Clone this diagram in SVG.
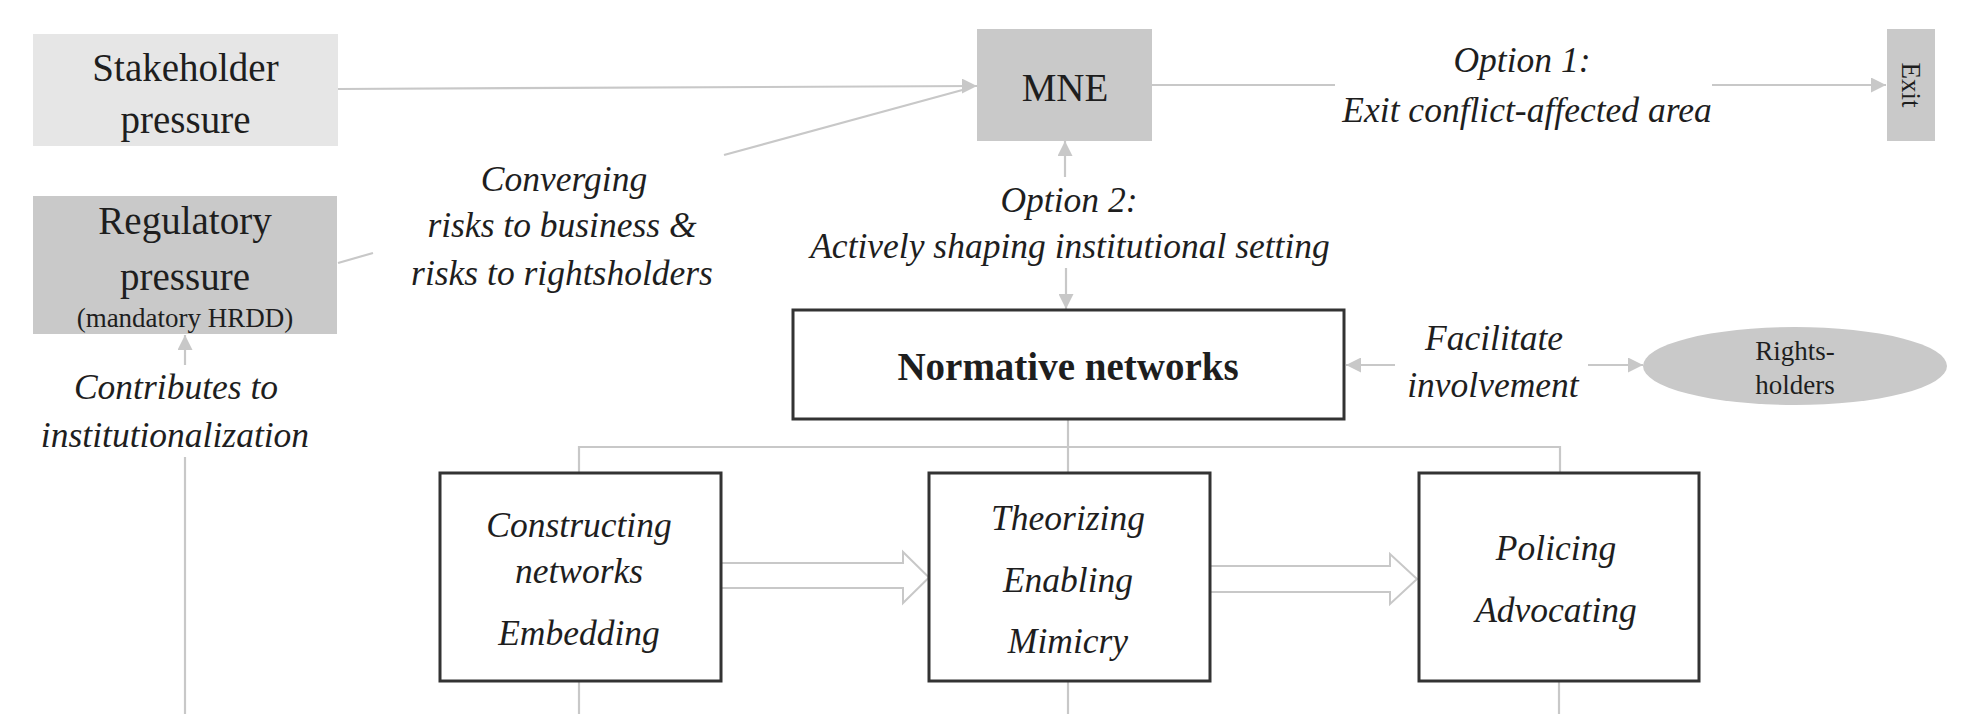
<svg xmlns="http://www.w3.org/2000/svg" width="1981" height="714" viewBox="0 0 1981 714">
<style>
text{font-family:"Liberation Serif","Times New Roman",serif;fill:#1e1e1e;text-anchor:middle}
.n{font-size:39px}
.s{font-size:27px}
.i{font-size:35.5px;font-style:italic}
.b{font-size:39px;font-weight:bold}
.ln{stroke:#c8c8c8;stroke-width:2.2;fill:none}
.box{fill:#fff;stroke:#333;stroke-width:3}
.g1{fill:#e6e6e6}
.g2{fill:#c9c9c9}
.blk{fill:#fff;stroke:#c8c8c8;stroke-width:2}
</style>
<defs>
<marker id="ah" viewBox="0 0 10 10" refX="10" refY="5" markerWidth="15" markerHeight="15" markerUnits="userSpaceOnUse" orient="auto">
<path d="M0,0 L10,5 L0,10 z" fill="#c8c8c8"/>
</marker>
</defs>
<rect width="1981" height="714" fill="#fff"/>
<g id="connectors">
<line class="ln" x1="338" y1="89" x2="977" y2="86" marker-end="url(#ah)"/>
<line class="ln" x1="338" y1="263" x2="373" y2="253"/>
<line class="ln" x1="724" y1="155" x2="966" y2="89"/>
<line class="ln" x1="1152" y1="85" x2="1335" y2="85"/>
<line class="ln" x1="1712" y1="85" x2="1886" y2="85" marker-end="url(#ah)"/>
<line class="ln" x1="1065" y1="177" x2="1065" y2="141" marker-end="url(#ah)"/>
<line class="ln" x1="1066" y1="268" x2="1066" y2="309" marker-end="url(#ah)"/>
<line class="ln" x1="1395" y1="365" x2="1346" y2="365" marker-end="url(#ah)"/>
<line class="ln" x1="1588" y1="365" x2="1643" y2="365" marker-end="url(#ah)"/>
<line class="ln" x1="185" y1="365" x2="185" y2="335" marker-end="url(#ah)"/>
<line class="ln" x1="185" y1="457" x2="185" y2="714"/>
<line class="ln" x1="1068" y1="419" x2="1068" y2="473"/>
<polyline class="ln" points="579,473 579,447 1560,447 1560,473"/>
<line class="ln" x1="579" y1="681" x2="579" y2="714"/>
<line class="ln" x1="1068" y1="681" x2="1068" y2="714"/>
<line class="ln" x1="1559" y1="681" x2="1559" y2="714"/>
<polygon class="blk" points="721,563 903,563 903,552 929,577.5 903,603 903,588 721,588"/>
<polygon class="blk" points="1210,566 1390,566 1390,554 1417,579 1390,604 1390,592 1210,592"/>
</g>
<g id="labels">
<text class="i" x="564" y="191">Converging</text>
<text class="i" x="562" y="237">risks to business &amp;</text>
<text class="i" x="562" y="285">risks to rightsholders</text>
<text class="i" x="1522" y="72">Option 1:</text>
<text class="i" x="1527" y="122">Exit conflict-affected area</text>
<text class="i" x="1069" y="212">Option 2:</text>
<text class="i" x="1070" y="258">Actively shaping institutional setting</text>
<text class="i" x="1494" y="350">Facilitate</text>
<text class="i" x="1493" y="397">involvement</text>
<text class="i" x="176" y="399">Contributes to</text>
<text class="i" x="175" y="447">institutionalization</text>
</g>
<g id="stakeholder">
<rect class="g1" x="33" y="34" width="305" height="112"/>
<text class="n" x="185.5" y="81">Stakeholder</text>
<text class="n" x="185.5" y="133">pressure</text>
</g>
<g id="regulatory">
<rect class="g2" x="33" y="196" width="304" height="138"/>
<text class="n" x="185" y="234">Regulatory</text>
<text class="n" x="185" y="290">pressure</text>
<text class="s" x="185" y="327">(mandatory HRDD)</text>
</g>
<g id="mne">
<rect class="g2" x="977" y="29" width="175" height="112"/>
<text class="n" x="1065" y="101">MNE</text>
</g>
<g id="exit">
<rect class="g2" x="1887" y="29" width="48" height="112"/>
<text class="s" x="1911" y="85" dy="0.35em" transform="rotate(90 1911 85)">Exit</text>
</g>
<g id="normative">
<rect class="box" x="793" y="310" width="551" height="109"/>
<text class="b" x="1068" y="380">Normative networks</text>
</g>
<g id="rightsholders">
<ellipse class="g2" cx="1795" cy="366" rx="152" ry="39"/>
<text class="s" x="1795" y="360">Rights-</text>
<text class="s" x="1795" y="394">holders</text>
</g>
<g id="constructing">
<rect class="box" x="440" y="473" width="281" height="208"/>
<text class="i" x="579" y="537">Constructing</text>
<text class="i" x="579" y="583">networks</text>
<text class="i" x="579" y="645">Embedding</text>
</g>
<g id="theorizing">
<rect class="box" x="929" y="473" width="281" height="208"/>
<text class="i" x="1068" y="530">Theorizing</text>
<text class="i" x="1068" y="592">Enabling</text>
<text class="i" x="1068" y="653">Mimicry</text>
</g>
<g id="policing">
<rect class="box" x="1419" y="473" width="280" height="208"/>
<text class="i" x="1556" y="560">Policing</text>
<text class="i" x="1556" y="622">Advocating</text>
</g>
</svg>
